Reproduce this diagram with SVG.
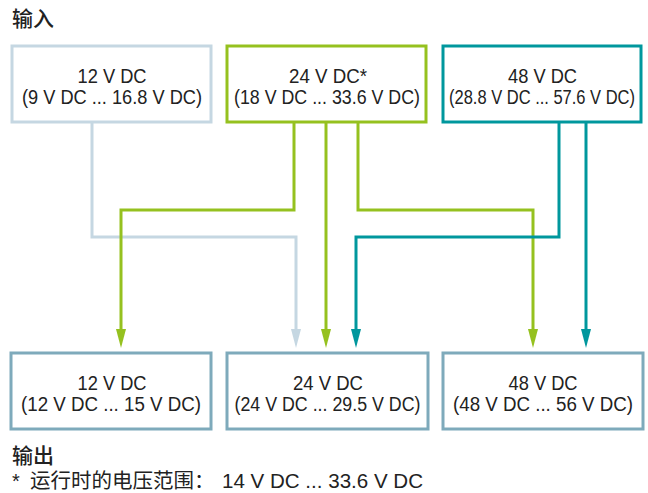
<svg xmlns="http://www.w3.org/2000/svg" width="648" height="493" viewBox="0 0 648 493">
<style>
text{font-family:"Liberation Sans","Noto Sans CJK SC",sans-serif;fill:#222;}
.t{font-size:20px;text-anchor:middle;}
.h{font-size:21px;font-weight:500;font-family:"Noto Sans CJK SC",sans-serif;}
.box{fill:#fff;stroke-width:3;}
.c{fill:none;stroke-width:3;}
</style>
<text class="h" x="12" y="26">输入</text>
<g id="in12"><rect class="box" x="12" y="46" width="199" height="76" stroke="#c5d7e2"/><text class="t" x="112" y="83" textLength="69" lengthAdjust="spacingAndGlyphs">12 V DC</text><text class="t" x="112" y="104" textLength="180" lengthAdjust="spacingAndGlyphs">(9 V DC ... 16.8 V DC)</text></g>
<g id="in24"><rect class="box" x="227" y="46" width="199" height="76" stroke="#95c11f"/><text class="t" x="328" y="83" textLength="78" lengthAdjust="spacingAndGlyphs">24 V DC*</text><text class="t" x="327" y="104" textLength="186" lengthAdjust="spacingAndGlyphs">(18 V DC ... 33.6 V DC)</text></g>
<g id="in48"><rect class="box" x="443" y="46" width="198" height="76" stroke="#00979d"/><text class="t" x="542.5" y="83" textLength="69" lengthAdjust="spacingAndGlyphs">48 V DC</text><text class="t" x="542" y="104" textLength="186" lengthAdjust="spacingAndGlyphs">(28.8 V DC ... 57.6 V DC)</text></g>
<g id="connectors">
<path class="c" stroke="#c5d7e2" d="M92,123 V237 H296 V330"/>
<path class="c" stroke="#95c11f" d="M294,123 V210 H121 V330"/>
<path class="c" stroke="#95c11f" d="M326,123 V330"/>
<path class="c" stroke="#95c11f" d="M358,123 V210 H533 V330"/>
<path class="c" stroke="#00979d" d="M559,123 V237 H356 V330"/>
<path class="c" stroke="#00979d" d="M586,123 V330"/>
<path fill="#c5d7e2" d="M291,329 H301 L296,348 Z"/>
<path fill="#95c11f" d="M116,329 H126 L121,348 Z"/>
<path fill="#95c11f" d="M321,329 H331 L326,348 Z"/>
<path fill="#95c11f" d="M528,329 H538 L533,348 Z"/>
<path fill="#00979d" d="M351,329 H361 L356,348 Z"/>
<path fill="#00979d" d="M581,329 H591 L586,348 Z"/>
</g>
<g id="out12"><rect class="box" x="11" y="353" width="200" height="76" stroke="#7eaabb"/><text class="t" x="112" y="390" textLength="69" lengthAdjust="spacingAndGlyphs">12 V DC</text><text class="t" x="111" y="411" textLength="180" lengthAdjust="spacingAndGlyphs">(12 V DC ... 15 V DC)</text></g>
<g id="out24"><rect class="box" x="227" y="353" width="201" height="76" stroke="#7eaabb"/><text class="t" x="328" y="390" textLength="70" lengthAdjust="spacingAndGlyphs">24 V DC</text><text class="t" x="327.5" y="411" textLength="186" lengthAdjust="spacingAndGlyphs">(24 V DC ... 29.5 V DC)</text></g>
<g id="out48"><rect class="box" x="443" y="353" width="200" height="76" stroke="#7eaabb"/><text class="t" x="543" y="390" textLength="69" lengthAdjust="spacingAndGlyphs">48 V DC</text><text class="t" x="543" y="411" textLength="180" lengthAdjust="spacingAndGlyphs">(48 V DC ... 56 V DC)</text></g>
<text class="h" x="12" y="463">输出</text>
<text y="488" font-size="20"><tspan x="12">*</tspan><tspan x="30" font-size="20.5" font-family="Noto Sans CJK SC, sans-serif">运行时的电压范围：</tspan><tspan x="222" textLength="201" lengthAdjust="spacingAndGlyphs">14 V DC ... 33.6 V DC</tspan></text>
</svg>
